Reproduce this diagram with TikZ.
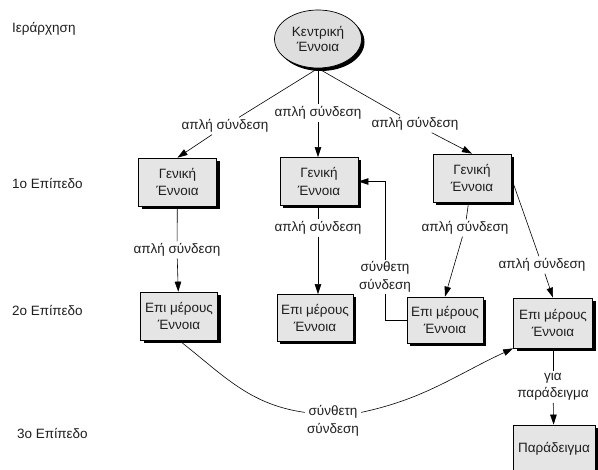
\documentclass[tikz,border=0pt]{standalone}
\usepackage{fontspec}
\setmainfont{Liberation Sans}
\usetikzlibrary{shadows,shapes.geometric,arrows.meta}
\begin{document}
\begin{tikzpicture}[x=1pt,y=1pt,
  every node/.style={font=\fontsize{13.5}{17.5}\selectfont, text=black!88, align=center},
  box/.style={draw=black, line width=0.7pt, fill=black!10, minimum width=78pt, minimum height=48pt, inner sep=1pt,
    drop shadow={shadow xshift=3pt, shadow yshift=-3pt, fill=black, opacity=1}},
  ell/.style={ellipse, draw=black, line width=0.7pt, fill=black!13, minimum width=87pt, minimum height=58pt, inner sep=0pt,
    font=\fontsize{13.5}{15}\selectfont,
    drop shadow={shadow xshift=3pt, shadow yshift=-3pt, fill=black, opacity=1}},
  lbl/.style={inner sep=2pt},
  lvl/.style={anchor=west, inner sep=0pt},
  ln/.style={draw=black, line width=0.6pt},
  arr/.style={ln, -{Triangle[length=10pt,width=6.5pt]}}
]
\fill[white] (0,0) rectangle (598,-470);
\useasboundingbox (0,0) rectangle (598,-470);

% level labels
\node[lvl] (lv0) at (12,-29) {Ιεράρχηση};
\node[lvl] (lv1) at (12,-183) {1ο Επίπεδο};
\node[lvl] (lv2) at (12,-310) {2ο Επίπεδο};
\node[lvl] (lv3) at (17,-433) {3ο Επίπεδο};

% concepts
\node[ell] (ell) at (318,-39) {Κεντρική\\Έννοια};
\node[box] (b1) at (177.5,-182) {Γενική\\Έννοια};
\node[box] (b2) at (319,-181.5) {Γενική\\Έννοια};
\node[box] (b3) at (472,-178) {Γενική\\Έννοια};
\node[box, minimum width=77pt] (b4) at (179,-316) {Επι μέρους\\Έννοια};
\node[box, minimum width=76pt, minimum height=47pt] (b5) at (315,-318) {Επι μέρους\\Έννοια};
\node[box, minimum width=76pt, minimum height=46pt] (b6) at (445,-320) {Επι μέρους\\Έννοια};
\node[box, minimum width=79pt, minimum height=50pt] (b7) at (553,-323) {Επι μέρους\\Έννοια};
\node[box, minimum width=82pt] (b8) at (554,-449) {Παράδειγμα};

% link labels
\node[lbl] (l1) at (225,-126) {απλή σύνδεση};
\node[lbl] (l2) at (318,-113) {απλή σύνδεση};
\node[lbl] (l3) at (415,-124) {απλή σύνδεση};
\node[lbl] (l4) at (177,-250) {απλή σύνδεση};
\node[lbl] (l5) at (318,-228) {απλή σύνδεση};
\node[lbl] (l6) at (465,-228) {απλή σύνδεση};
\node[lbl] (l7) at (385,-277) {σύνθετη\\σύνδεση};
\node[lbl] (l8) at (542,-265) {απλή σύνδεση};
\node[lbl] (l9) at (553,-387) {για\\παράδειγμα};
\node[lbl] (l10) at (333,-421) {σύνθετη\\σύνδεση};

% connectors
\draw[ln] (ell.south) -- (l1);
\draw[arr] (l1) -- (b1.north);
\draw[ln] (ell.south) -- (l2);
\draw[arr] (l2) -- (l2.south |- b2.north);
\draw[ln] (ell.south) -- (l3);
\draw[arr] (l3) -- (b3.north);

\draw[ln] (b1) -- (l4);
\draw[arr] (l4) -- (b4);
\draw[ln] (l5.north |- b2.south) -- (l5);
\draw[arr] (l5) -- (l5.south |- b5.north);
\draw[ln] (b3) -- (l6);
\draw[arr] (l6) -- (b6.north);

\draw[ln] (b6.west) -| (l7);
\draw[arr] (l7) |- (b2.east);

\draw[ln] (b3.east) -- (l8);
\draw[arr] (l8) -- (b7.north);

\draw[ln] (b7) -- (l9);
\draw[arr] (l9) -- (b8);

\draw[ln] (b4.south) to[out=-38, in=172] (l10.163);
\draw[arr] (l10.17) to[out=12, in=205] (b7.south west);
\end{tikzpicture}
\end{document}
